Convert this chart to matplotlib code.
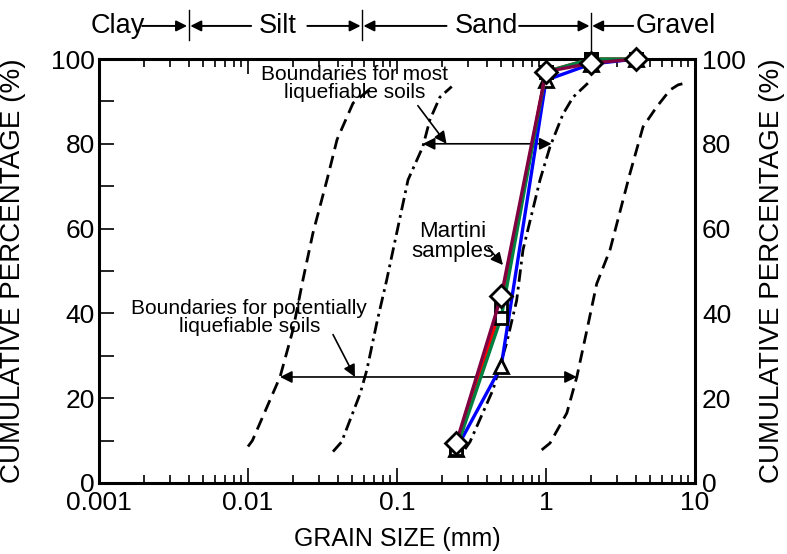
import matplotlib.pyplot as plt
from matplotlib.ticker import FixedLocator, LogLocator, NullFormatter

plt.rcParams['font.family'] = ['Liberation Sans', 'DejaVu Sans']

# Martini sample gradations
sizes = [0.25, 0.5, 1, 2, 4]
blue_tri = [8, 27.5, 95, 98.8, 100]
green_sq = [8, 39, 97, 100, 100]
red_sq = [8, 41.5, 97, 100, 100]
maroon_di = [9.5, 44, 97, 99, 100]

# boundary curves
pot_fine_x = [0.010, 0.0107, 0.0164, 0.020, 0.0234, 0.0273, 0.0339, 0.0396, 0.0507, 0.069]
pot_fine_y = [8.6, 10, 25, 36, 48, 59, 71.5, 81, 89.6, 93.5]
most_fine_x = [0.0372, 0.0425, 0.0565, 0.0627, 0.0731, 0.0853, 0.1186, 0.149, 0.166, 0.194, 0.233]
most_fine_y = [7.4, 9.7, 21, 26.6, 37.7, 47.9, 71.5, 79.3, 85.6, 91, 93.5]
most_coarse_x = [0.286, 0.309, 0.441, 0.544, 0.635, 0.701, 0.912, 1.064, 1.30, 1.52, 1.91]
most_coarse_y = [8, 9.7, 22, 33, 43, 55, 71.5, 79.3, 87, 91, 94.3]
pot_coarse_x = [0.936, 1.064, 1.38, 1.61, 1.88, 2.19, 2.69, 3.66, 4.48, 5.53, 6.80, 7.7, 9.0]
pot_coarse_y = [7.8, 9.4, 16.5, 25, 36, 47, 55, 73, 84, 88.7, 92.7, 93.9, 94.5]

xticks = [0.001, 0.01, 0.1, 1, 10]
xtick_labels = ['0.001', '0.01', '0.1', '1', '10']
yticks = [0, 20, 40, 60, 80, 100]

# soil classes along the top
class_bounds = [0.004, 0.058, 2.0]

fig = plt.figure(figsize=(7.87, 5.54), dpi=100)
ax = fig.add_axes([0.1258, 0.1282, 0.7573, 0.7653])

dashed = (0, (4.5, 2.5))
dashdot = (0, (4.5, 1.8, 1.0, 1.8))
ax.plot(pot_fine_x, pot_fine_y, color='black', lw=2, linestyle=dashed)
ax.plot(pot_coarse_x, pot_coarse_y, color='black', lw=2, linestyle=dashed)
ax.plot(most_fine_x, most_fine_y, color='black', lw=2, linestyle=dashdot)
ax.plot(most_coarse_x, most_coarse_y, color='black', lw=2, linestyle=dashdot)

mk = dict(markerfacecolor='white', markeredgecolor='black', markeredgewidth=2, lw=2.4, clip_on=False, zorder=5)
ax.plot(sizes, blue_tri, color='#0000ff', marker='^', ms=10, **mk)
ax.plot(sizes, red_sq, color='#ff0000', marker='s', ms=9, **mk)
ax.plot(sizes, green_sq, color='#008040', marker='s', ms=9, **mk)
ax.plot(sizes, maroon_di, color='#800040', marker='D', ms=11.5, **mk)

ax.set_xscale('log')
ax.set_xlim(0.001, 10)
ax.set_ylim(0, 100)
ax.xaxis.set_major_locator(FixedLocator(xticks))
ax.set_xticklabels(xtick_labels)
ax.xaxis.set_minor_locator(LogLocator(base=10, subs=range(2, 10)))
ax.xaxis.set_minor_formatter(NullFormatter())
ax.set_yticks(yticks)
ax.set_yticks(range(10, 100, 20), minor=True)

for s in ax.spines.values():
    s.set_linewidth(2.2)
ax.tick_params(which='both', direction='in', top=True, right=True, labelsize=19, width=1.2)
ax.tick_params(axis='x', which='major', length=11, pad=6)
ax.tick_params(axis='x', which='minor', length=6)
ax.tick_params(axis='y', which='both', length=11, pad=3)

ax2 = ax.twinx()
ax2.set_ylim(0, 100)
ax2.set_yticks(yticks)
ax2.tick_params(direction='in', length=0, labelsize=19, pad=5)
for s in ax2.spines.values():
    s.set_visible(False)

ax.set_xlabel('GRAIN SIZE (mm)', fontsize=18)
ax.set_ylabel('CUMULATIVE PERCENTAGE (%)', fontsize=20)
ax2.set_ylabel('CUMULATIVE PERCENTAGE (%)', fontsize=20)
ax.xaxis.set_label_coords(0.5, -0.103)
ax.yaxis.set_label_coords(-0.122, 0.5)
ax2.yaxis.set_label_coords(1.108, 0.5)

# range arrows
arr = dict(arrowstyle='<|-|>', color='black', lw=1.2, mutation_scale=18, shrinkA=0, shrinkB=0)
ax.annotate('', xy=(0.0164, 25), xytext=(1.61, 25), arrowprops=arr)
ax.annotate('', xy=(0.149, 80), xytext=(1.09, 80), arrowprops=arr)

ptr = dict(arrowstyle='-|>', color='black', lw=1.2, mutation_scale=18, shrinkA=0, shrinkB=0)
ax.text(0.0522, 94.3, 'Boundaries for most\nliquefiable soils', fontsize=15, ha='center', va='center', linespacing=0.95)
ax.annotate('', xy=(0.215, 80), xytext=(0.138, 89), arrowprops=ptr)
ax.text(0.0102, 39.1, 'Boundaries for potentially\nliquefiable soils', fontsize=15, ha='center', va='center', linespacing=0.95)
ax.annotate('', xy=(0.0522, 25), xytext=(0.0372, 35), arrowprops=ptr)
ax.text(0.238, 57, 'Martini\nsamples', fontsize=16, ha='center', va='center', linespacing=0.95)
ax.annotate('', xy=(0.514, 51.4), xytext=(0.41, 55.5), arrowprops=ptr)

# soil class strip above the axes
tr = ax.get_xaxis_transform()
ty = 1.078
for b in class_bounds[:2]:
    ax.plot([b, b], [1.045, 1.115], transform=tr, color='black', lw=1, clip_on=False)
ax.plot([class_bounds[2]] * 2, [1.0, 1.108], transform=tr, color='black', lw=1, clip_on=False)
for name, x in [('Clay', 0.00134), ('Silt', 0.0159), ('Sand', 0.40), ('Gravel', 7.45)]:
    ax.text(x, ty, name, transform=tr, fontsize=19.5, ha='center', va='center')
head = dict(arrowstyle='-|>', color='black', lw=1.4, mutation_scale=16, shrinkA=0, shrinkB=0)
for x0, x1 in [(0.00195, 0.0039), (0.0105, 0.0041), (0.025, 0.057), (0.215, 0.0595), (0.66, 1.96), (3.85, 2.04)]:
    ax.annotate('', xy=(x1, ty), xytext=(x0, ty), xycoords=tr, textcoords=tr, arrowprops=head)

fig.savefig('out.png', dpi=100)
